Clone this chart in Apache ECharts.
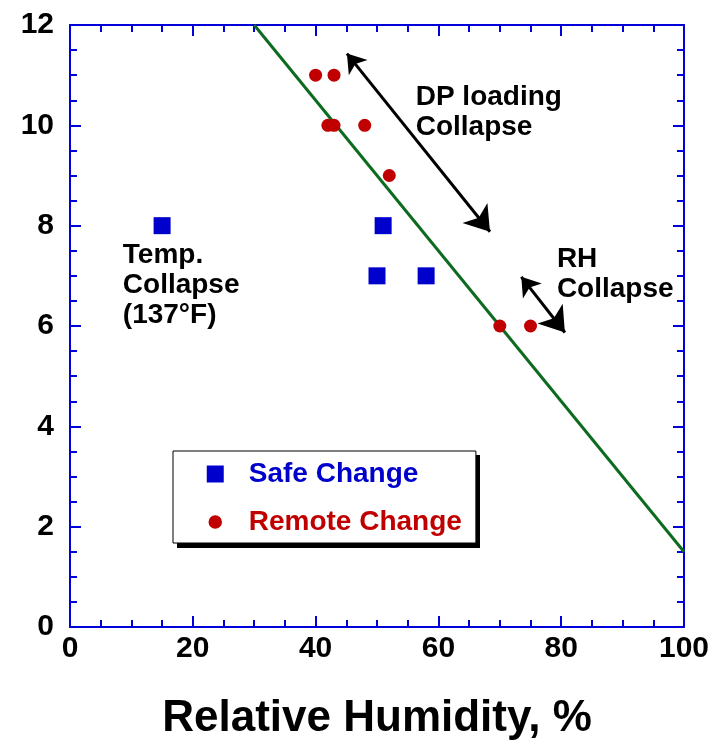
<!DOCTYPE html>
<html><head><meta charset="utf-8">
<script src="https://cdn.jsdelivr.net/npm/echarts@6/dist/echarts.min.js"></script>
<style>html,body{margin:0;padding:0;background:#fff}#c{width:717px;height:740px}</style>
</head><body><div id="c"></div>
<script>
// Data
const safeChange = [[15, 8], [51, 8], [50, 7], [58, 7]];
const remoteChange = [[40, 11], [43, 11], [42, 10], [43, 10], [48, 10], [52, 9], [70, 6], [75, 6]];
const trendLine = [[30, 12], [100, 1.5]];
const dpArrow = [[45.1, 11.43], [68.4, 7.88]];
const rhArrow = [[73.5, 6.98], [80.6, 5.87]];
const annotations = [
  { value: [8.6, 6.82], text: 'Temp.\nCollapse\n(137°F)' },
  { value: [56.3, 10.26], text: 'DP loading\nCollapse' },
  { value: [79.3, 7.03], text: 'RH\nCollapse' }
];
const xTicks = { min: 0, max: 100, interval: 20 };
const yTicks = { min: 0, max: 12, interval: 2 };

const FONT = '"Liberation Sans", Arial, Helvetica, sans-serif';
const BLUE = '#0000cc';
const RED = '#c00000';
const AX = '#0000d8';

function axisCommon(showLabel, margin) {
  return {
    axisLine: { show: true, onZero: false, lineStyle: { color: AX, width: 2 } },
    axisTick: { show: true, inside: true, length: 11, lineStyle: { color: AX, width: 2 } },
    minorTick: { show: true, splitNumber: 4, length: 7, lineStyle: { color: AX, width: 2 } },
    splitLine: { show: false },
    minorSplitLine: { show: false },
    axisLabel: { show: showLabel, margin: margin, color: '#000', fontFamily: FONT, fontWeight: 'bold', fontSize: 30 }
  };
}

const chart = echarts.init(document.getElementById('c'));
chart.setOption({
  animation: false,
  backgroundColor: '#fff',
  grid: { left: 70, right: 33, top: 25, bottom: 113, containLabel: false, outerBoundsMode: 'none' },
  xAxis: [
    Object.assign({ type: 'value', position: 'bottom', min: xTicks.min, max: xTicks.max, interval: xTicks.interval,
      name: 'Relative Humidity, %', nameLocation: 'middle', nameGap: 70,
      nameTextStyle: { color: '#000', fontFamily: FONT, fontWeight: 'bold', fontSize: 44 } }, axisCommon(true, 7)),
    Object.assign({ type: 'value', position: 'top', min: xTicks.min, max: xTicks.max, interval: xTicks.interval }, axisCommon(false, 7))
  ],
  yAxis: [
    Object.assign({ type: 'value', position: 'left', min: yTicks.min, max: yTicks.max, interval: yTicks.interval }, axisCommon(true, 16)),
    Object.assign({ type: 'value', position: 'right', min: yTicks.min, max: yTicks.max, interval: yTicks.interval }, axisCommon(false, 16))
  ],
  graphic: [
    { type: 'rect', z: 3, shape: { x: 177, y: 455, width: 303, height: 93 }, style: { fill: '#000' } }
  ],
  legend: {
    data: [
      { name: 'Safe Change', icon: 'rect', textStyle: { color: BLUE } },
      { name: 'Remote Change', icon: 'circle', itemStyle: { borderColor: '#fff', borderWidth: 3.5 }, textStyle: { color: RED } }
    ],
    orient: 'vertical',
    left: 173, top: 451,
    itemWidth: 17, itemHeight: 17,
    itemGap: 20,
    padding: [9, 14, 7, 32],
    backgroundColor: '#fff',
    borderColor: '#000', borderWidth: 1,
    z: 5,
    textStyle: { fontFamily: FONT, fontWeight: 'bold', fontSize: 28, lineHeight: 28, padding: [0, 0, 0, 20] }
  },
  series: [
    { type: 'line', name: 'trend', data: trendLine, symbol: 'none', lineStyle: { color: '#0d6b1f', width: 3 }, z: 2 },
    { type: 'scatter', name: 'Safe Change', data: safeChange, symbol: 'rect', symbolSize: 17, itemStyle: { color: BLUE, opacity: 1 }, z: 3 },
    { type: 'scatter', name: 'Remote Change', data: remoteChange, symbol: 'circle', symbolSize: 13, itemStyle: { color: RED, opacity: 1 }, z: 3 },
    { type: 'lines', coordinateSystem: 'cartesian2d', xAxisIndex: 0, yAxisIndex: 0,
      symbol: ['arrow', 'arrow'], symbolSize: [18, 24],
      lineStyle: { color: '#000', width: 3, opacity: 1 },
      itemStyle: { color: '#000' },
      data: [{ coords: dpArrow }, { coords: rhArrow }], z: 4 },
    { type: 'scatter', name: 'notes', symbolSize: 0, silent: true,
      itemStyle: { opacity: 1 },
      data: annotations.map(a => ({ value: a.value, label: { formatter: a.text } })),
      label: { show: true, position: 'right', distance: 0, color: '#000', fontFamily: FONT, fontWeight: 'bold',
        fontSize: 28, lineHeight: 30, align: 'left' }, z: 5 }
  ]
});
</script></body></html>
